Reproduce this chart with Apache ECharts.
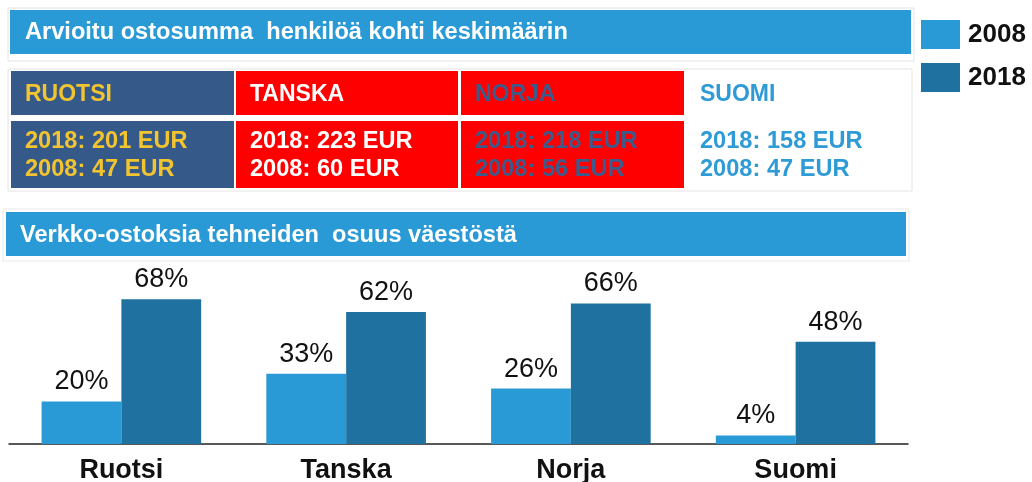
<!DOCTYPE html>
<html>
<head>
<meta charset="utf-8">
<script src="https://cdn.jsdelivr.net/npm/echarts@6/dist/echarts.min.js"></script>
<style>
  html, body { margin: 0; padding: 0; background: #fff; }
  #chart { width: 1032px; height: 482px; }
</style>
</head>
<body>
<div id="chart"></div>
<script>
// ---- data ----
const categories = ['Ruotsi', 'Tanska', 'Norja', 'Suomi'];
const seriesNames = ['2008', '2018'];
const share2008 = [20, 33, 26, 4];
const share2018 = [68, 62, 66, 48];
const tableNames = ['RUOTSI', 'TANSKA', 'NORJA', 'SUOMI'];
const spend2018 = [201, 223, 218, 158];
const spend2008 = [47, 60, 56, 47];
const title1 = 'Arvioitu ostosumma  henkilöä kohti keskimäärin';
const title2 = 'Verkko-ostoksia tehneiden  osuus väestöstä';

// ---- styles ----
const FONT = '"Liberation Sans", Arial, sans-serif';
const C2008 = '#2A9AD6';
const C2018 = '#1F72A0';
const cellStyles = [
  { fill: '#355A8A', text: '#F2C530' },
  { fill: '#FF0000', text: '#FFFFFF' },
  { fill: '#FF0000', text: '#3B5B8C' },
  { fill: null, text: '#2E9AD6' }
];
const colX = [[11, 234], [236, 458], [461, 684], [686, 911]];

const graphics = [];
// banner 1
graphics.push({ type: 'rect', shape: { x: 8, y: 8, width: 906, height: 53 }, style: { fill: '#fff', stroke: '#e4e4e4', lineWidth: 1 }, silent: true });
graphics.push({ type: 'rect', shape: { x: 10, y: 10, width: 901, height: 44 }, style: { fill: C2008 }, silent: true });
graphics.push({ type: 'text', x: 25, y: 32, style: { text: title1, fill: '#fff', font: 'bold 23.6px ' + FONT, textVerticalAlign: 'middle' }, silent: true });
// table frame
graphics.push({ type: 'rect', shape: { x: 8, y: 69, width: 904, height: 122 }, style: { fill: '#fff', stroke: '#e4e4e4', lineWidth: 1 }, silent: true });
tableNames.forEach((name, i) => {
  const [x0, x1] = colX[i];
  const st = cellStyles[i];
  if (st.fill) {
    graphics.push({ type: 'rect', shape: { x: x0, y: 71, width: x1 - x0, height: 44 }, style: { fill: st.fill }, silent: true });
    graphics.push({ type: 'rect', shape: { x: x0, y: 121, width: x1 - x0, height: 67 }, style: { fill: st.fill }, silent: true });
  }
  graphics.push({ type: 'text', x: x0 + 14, y: 95, style: { text: name, fill: st.text, font: 'bold 23px ' + FONT, textVerticalAlign: 'middle' }, silent: true });
  graphics.push({ type: 'text', x: x0 + 14, y: 141, style: { text: '2018: ' + spend2018[i] + ' EUR', fill: st.text, font: 'bold 23.6px ' + FONT, textVerticalAlign: 'middle' }, silent: true });
  graphics.push({ type: 'text', x: x0 + 14, y: 169, style: { text: '2008: ' + spend2008[i] + ' EUR', fill: st.text, font: 'bold 23.6px ' + FONT, textVerticalAlign: 'middle' }, silent: true });
});
// banner 2
graphics.push({ type: 'rect', shape: { x: 3, y: 209, width: 906, height: 52 }, style: { fill: '#fff', stroke: '#e8e8e8', lineWidth: 1 }, silent: true });
graphics.push({ type: 'rect', shape: { x: 6, y: 212, width: 900, height: 44 }, style: { fill: C2008 }, silent: true });
graphics.push({ type: 'text', x: 20, y: 235, style: { text: title2, fill: '#fff', font: 'bold 23.6px ' + FONT, textVerticalAlign: 'middle' }, silent: true });

const chart = echarts.init(document.getElementById('chart'), null, { renderer: 'canvas' });
chart.setOption({
  animation: false,
  backgroundColor: '#fff',
  graphic: { elements: graphics },
  legend: {
    data: seriesNames,
    orient: 'vertical',
    left: 916,
    top: 15,
    itemWidth: 39,
    itemHeight: 29,
    itemGap: 14,
    icon: 'rect',
    textStyle: { fontFamily: FONT, fontWeight: 'bold', fontSize: 26, color: '#111', padding: [0, 0, 0, 3] }
  },
  grid: { left: 9, right: 124, top: 231, bottom: 38, containLabel: false, outerBoundsMode: 'none' },
  xAxis: {
    type: 'category',
    data: categories,
    axisLine: { lineStyle: { color: '#222', width: 1.5 } },
    axisTick: { show: false },
    axisLabel: { fontFamily: FONT, fontWeight: 'bold', fontSize: 27, color: '#111', margin: 13 }
  },
  yAxis: { type: 'value', min: 0, max: 100, show: false, splitLine: { show: false } },
  series: [
    {
      name: seriesNames[0], type: 'bar', data: share2008,
      barGap: '0%', barCategoryGap: '29%',
      itemStyle: { color: C2008 },
      label: { show: true, position: 'top', distance: 6, formatter: '{c}%', fontFamily: FONT, fontSize: 27, color: '#111' }
    },
    {
      name: seriesNames[1], type: 'bar', data: share2018,
      barGap: '0%', barCategoryGap: '29%',
      itemStyle: { color: C2018 },
      label: { show: true, position: 'top', distance: 6, formatter: '{c}%', fontFamily: FONT, fontSize: 27, color: '#111' }
    }
  ]
});
</script>
</body>
</html>
